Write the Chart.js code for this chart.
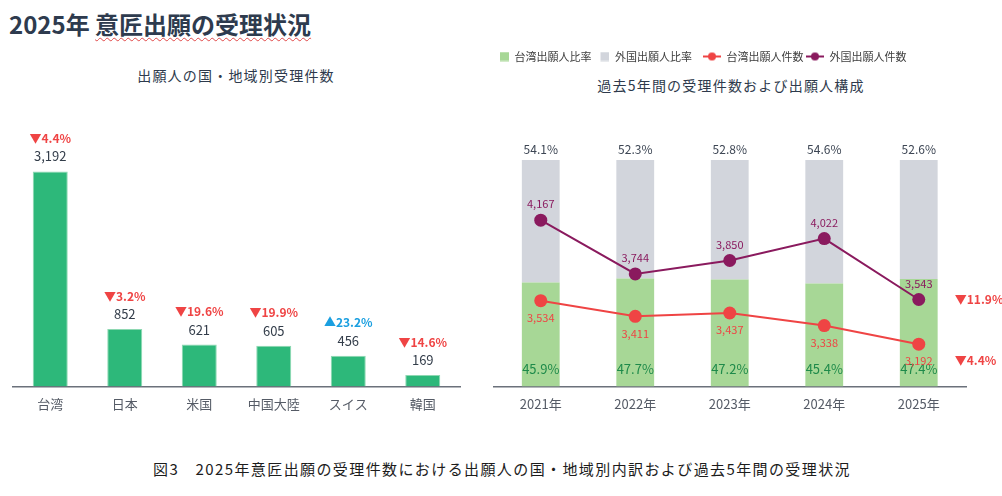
<!DOCTYPE html>
<html lang="ja">
<head>
<meta charset="utf-8">
<script src="https://cdn.jsdelivr.net/npm/chart.js@4"></script>
<style>
  html, body { margin: 0; padding: 0; background: #fff; }
  body { width: 1002px; height: 496px; position: relative; overflow: hidden;
         font-family: "Noto Sans CJK JP", "Noto Sans", sans-serif; }
  .abs { position: absolute; }
  #mainTitle { left: 9px; top: 7px; font-size: 24px; font-weight: bold; color: #2e3b4e; line-height: 34px; white-space: nowrap; }
  #mainTitle span { text-decoration: underline wavy #e04848; text-decoration-thickness: 1px; text-underline-offset: 3px; }
  .subTitle { font-size: 14px; color: #2e3a4c; letter-spacing: 1.2px; white-space: nowrap; transform: translateX(-50%); line-height: 20px; }
  #leftTitle { left: 236px; top: 65px; }
  #rightTitle { left: 731px; top: 75px; }
  #caption { left: 502px; top: 459px; font-size: 15px; color: #1c1c1c; letter-spacing: 1.4px; white-space: nowrap; transform: translateX(-50%); line-height: 20px; }
</style>
</head>
<body>
<div id="mainTitle" class="abs">2025年 <span>意匠出願の受理状況</span></div>
<div id="leftTitle" class="abs subTitle">出願人の国・地域別受理件数</div>
<div id="rightTitle" class="abs subTitle">過去5年間の受理件数および出願人構成</div>
<canvas id="leftChart" class="abs" width="480" height="330" style="left:0;top:100px"></canvas>
<canvas id="rightChart" class="abs" width="515" height="390" style="left:487px;top:40px"></canvas>
<div id="caption" class="abs">図3　2025年意匠出願の受理件数における出願人の国・地域別内訳および過去5年間の受理状況</div>

<script>
// 左: 出願人の国・地域別
const countries = ['台湾', '日本', '米国', '中国大陸', 'スイス', '韓国'];
const countryCounts = [3192, 852, 621, 605, 456, 169];
const countryChange = [-4.4, -3.2, -19.6, -19.9, 23.2, -14.6];

// 右: 過去5年間
const years = ['2021年', '2022年', '2023年', '2024年', '2025年'];
const taiwanShare = [45.9, 47.7, 47.2, 45.4, 47.4];
const foreignShare = [54.1, 52.3, 52.8, 54.6, 52.6];
const taiwanCounts = [3534, 3411, 3437, 3338, 3192];
const foreignCounts = [4167, 3744, 3850, 4022, 3543];
const foreignLatestChange = -11.9;
const taiwanLatestChange = -4.4;

const FONT = '"Noto Sans CJK JP", "Noto Sans", sans-serif';
const RED = '#ef4444';
const BLUE = '#1a9fe0';
const PURPLE = '#8a1a5e';
const AXIS = '#6b717b';

const fmt = v => v.toLocaleString('en-US');
const fmtChange = v => (v < 0 ? '▼' : '▲') + Math.abs(v).toFixed(1) + '%';

Chart.defaults.font.family = FONT;
Chart.defaults.animation = false;

// 左のグラフ: 件数と前年比
const countryLabels = {
    id: 'countryLabels',
    afterDatasetsDraw(chart) {
        const ctx = chart.ctx;
        const meta = chart.getDatasetMeta(0);
        ctx.save();
        ctx.textAlign = 'center';
        ctx.textBaseline = 'middle';
        meta.data.forEach((bar, i) => {
            ctx.font = '13px ' + FONT;
            ctx.fillStyle = '#333d4a';
            ctx.fillText(fmt(countryCounts[i]), bar.x, bar.y - 15);
            ctx.font = 'bold 12px ' + FONT;
            ctx.fillStyle = countryChange[i] < 0 ? RED : BLUE;
            ctx.fillText(fmtChange(countryChange[i]), bar.x, bar.y - 33);
        });
        ctx.restore();
    }
};

new Chart(document.getElementById('leftChart'), {
    type: 'bar',
    data: {
        labels: countries,
        datasets: [{
            data: countryCounts,
            backgroundColor: '#2db87a',
            borderColor: '#8ed8b2',
            borderWidth: 1,
            barPercentage: 0.47,
            categoryPercentage: 1
        }]
    },
    options: {
        responsive: false,
        layout: { padding: { left: 13, right: 20, top: 17, bottom: 8 } },
        plugins: { legend: { display: false }, tooltip: { enabled: false } },
        scales: {
            x: {
                grid: { display: false, drawTicks: false },
                border: { display: true, color: AXIS, width: 1.5 },
                ticks: { color: '#555b66', font: { size: 13 }, padding: 10 }
            },
            y: { display: false, min: 0, max: 4000 }
        }
    },
    plugins: [countryLabels]
});

// 凡例のアイコン
function rectIcon(color) {
    const c = document.createElement('canvas');
    c.width = 18; c.height = 10;
    const g = c.getContext('2d');
    g.fillStyle = color;
    g.fillRect(9, 0.5, 9, 9);
    return c;
}
function lineIcon(color) {
    const c = document.createElement('canvas');
    c.width = 18; c.height = 10;
    const g = c.getContext('2d');
    g.strokeStyle = color;
    g.lineWidth = 2;
    g.beginPath(); g.moveTo(0, 5); g.lineTo(18, 5); g.stroke();
    g.fillStyle = color;
    g.beginPath(); g.arc(9, 5, 4, 0, Math.PI * 2); g.fill();
    return c;
}

const legendSpace = {
    id: 'legendSpace',
    beforeLayout(chart) {
        const legend = chart.legend;
        if (!legend || legend._patched) return;
        const fit = legend.fit;
        legend.fit = function () { fit.call(this); this.height = 109; };
        legend._patched = true;
    }
};

const yearLabels = {
    id: 'yearLabels',
    afterDatasetsDraw(chart) {
        const ctx = chart.ctx;
        const area = chart.chartArea;
        const bars = chart.getDatasetMeta(0).data;
        const twPts = chart.getDatasetMeta(2).data;
        const fgPts = chart.getDatasetMeta(3).data;
        ctx.save();
        ctx.textAlign = 'center';
        ctx.textBaseline = 'middle';
        bars.forEach((bar, i) => {
            ctx.font = '12px ' + FONT;
            ctx.fillStyle = '#3d4654';
            ctx.fillText(foreignShare[i].toFixed(1) + '%', bar.x, area.top - 11);
            ctx.font = '13px ' + FONT;
            ctx.fillStyle = '#1e8a4a';
            ctx.fillText(taiwanShare[i].toFixed(1) + '%', bar.x, area.bottom - 17);
            ctx.font = '11px ' + FONT;
            ctx.fillStyle = PURPLE;
            ctx.fillText(fmt(foreignCounts[i]), fgPts[i].x, fgPts[i].y - 16);
            ctx.fillStyle = RED;
            ctx.fillText(fmt(taiwanCounts[i]), twPts[i].x, twPts[i].y + 17);
        });
        const last = bars.length - 1;
        ctx.textAlign = 'left';
        ctx.font = 'bold 12px ' + FONT;
        ctx.fillStyle = RED;
        ctx.fillText(fmtChange(foreignLatestChange), bars[last].x + 36, fgPts[last].y);
        ctx.fillText(fmtChange(taiwanLatestChange), bars[last].x + 36, twPts[last].y + 16);
        ctx.restore();
    }
};

const icons = [rectIcon('#a7d796'), rectIcon('#d2d5dc'), lineIcon(RED), lineIcon(PURPLE)];

new Chart(document.getElementById('rightChart'), {
    type: 'bar',
    data: {
        labels: years,
        datasets: [
            { label: '台湾出願人比率', data: taiwanShare, backgroundColor: '#a7d796', stack: 'share', order: 1,
              barPercentage: 0.4, categoryPercentage: 1 },
            { label: '外国出願人比率', data: foreignShare, backgroundColor: '#d2d5dc', stack: 'share', order: 1,
              barPercentage: 0.4, categoryPercentage: 1 },
            { type: 'line', label: '台湾出願人件数', data: taiwanCounts, yAxisID: 'y2', order: 0,
              borderColor: RED, backgroundColor: RED, borderWidth: 2, pointRadius: 6.5, pointBorderWidth: 0 },
            { type: 'line', label: '外国出願人件数', data: foreignCounts, yAxisID: 'y2', order: 0,
              borderColor: PURPLE, backgroundColor: PURPLE, borderWidth: 2, pointRadius: 6.5, pointBorderWidth: 0 }
        ]
    },
    options: {
        responsive: false,
        layout: { padding: { left: 4, right: 36, top: 11, bottom: 8 } },
        plugins: {
            tooltip: { enabled: false },
            legend: {
                position: 'top',
                align: 'start',
                labels: {
                    usePointStyle: true,
                    pointStyleWidth: 18,
                    padding: 0,
                    color: '#404040',
                    font: { size: 11 },
                    sort: (a, b) => a.datasetIndex - b.datasetIndex,
                    generateLabels(chart) {
                        const items = Chart.defaults.plugins.legend.labels.generateLabels(chart);
                        items.forEach(item => {
                            item.pointStyle = icons[item.datasetIndex];
                            if (item.datasetIndex === 1) item.text += '　';
                            else if (item.datasetIndex === 2) item.text += ' ';
                        });
                        return items;
                    }
                }
            }
        },
        scales: {
            x: {
                stacked: true,
                grid: { display: false, drawTicks: false },
                border: { display: true, color: AXIS, width: 1.5 },
                ticks: { color: '#555b66', font: { size: 13 }, padding: 10 }
            },
            y: { display: false, stacked: true, min: 0, max: 100 },
            y2: { display: false, min: 2860, max: 4640 }
        }
    },
    plugins: [legendSpace, yearLabels]
});
</script>
</body>
</html>
